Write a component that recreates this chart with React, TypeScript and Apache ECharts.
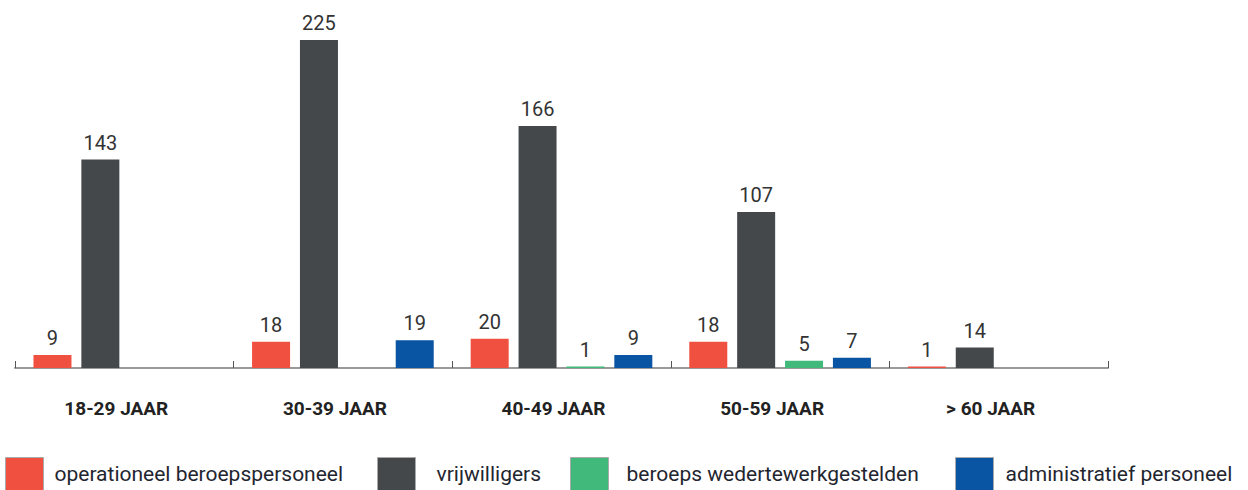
import React, { useEffect, useRef } from "react";
import * as echarts from "echarts";

const categories = ["18-29 JAAR", "30-39 JAAR", "40-49 JAAR", "50-59 JAAR", "> 60 JAAR"];
const operationeel = [9, 18, 20, 18, 1];
const vrijwilligers = [143, 225, 166, 107, 14];
const wedertewerk = [null, null, 1, 5, null];
const administratief = [null, 19, 9, 7, null];

const seriesNames = [
  "operationeel beroepspersoneel",
  "vrijwilligers",
  "beroeps wedertewerkgestelden",
  "administratief personeel",
];
const colors = ["#EF5040", "#45484B", "#40B97A", "#0A55A3"];
const seriesData = [operationeel, vrijwilligers, wedertewerk, administratief];
const legendLeft = [0, 372, 565, 950];
const legendTextGap = [6, 16, 13, 7];

export default function App() {
  const ref = useRef<HTMLDivElement>(null);
  useEffect(() => {
    const chart = echarts.init(ref.current!, null, { renderer: "svg" });
    chart.setOption({
      animation: false,
      textStyle: { fontFamily: "Roboto" },
      grid: { left: 15, right: 140, top: 40, bottom: 122, containLabel: false },
      legend: seriesNames.map((n, i) => ({
        data: [n],
        left: legendLeft[i],
        top: 452,
        itemWidth: 38,
        itemHeight: 33,
        icon: "rect",
        selectedMode: false,
        itemStyle: { borderColor: "#aaaaaa", borderWidth: 1 },
        textStyle: {
          fontSize: 21,
          color: "#1f2630",
          fontFamily: "Roboto",
          padding: [6, 0, 0, legendTextGap[i]],
        },
      })),
      xAxis: {
        type: "category",
        data: categories,
        axisLine: { show: true, lineStyle: { color: "#999999", width: 2 } },
        axisTick: { show: true, inside: true, length: 7, lineStyle: { color: "#555555", width: 1 } },
        axisLabel: {
          fontSize: 19,
          fontWeight: "bold",
          color: "#222222",
          margin: 31,
          fontFamily: "Roboto",
          padding: [0, 16, 0, 0],
        },
      },
      yAxis: {
        type: "value",
        min: 0,
        max: 225,
        show: false,
        splitLine: { show: false },
      },
      series: seriesNames.map((n, i) => ({
        name: n,
        type: "bar",
        data: seriesData[i],
        barWidth: 38,
        barGap: "26%",
        itemStyle: { color: colors[i] },
        label: {
          show: true,
          position: "top",
          distance: 7,
          fontSize: 20,
          color: "#333333",
          fontFamily: "Roboto",
        },
      })),
    });
    return () => chart.dispose();
  }, []);
  return (
    <div
      ref={ref}
      style={{ position: "fixed", left: 0, top: 0, width: 1248, height: 490, background: "#ffffff" }}
    />
  );
}
